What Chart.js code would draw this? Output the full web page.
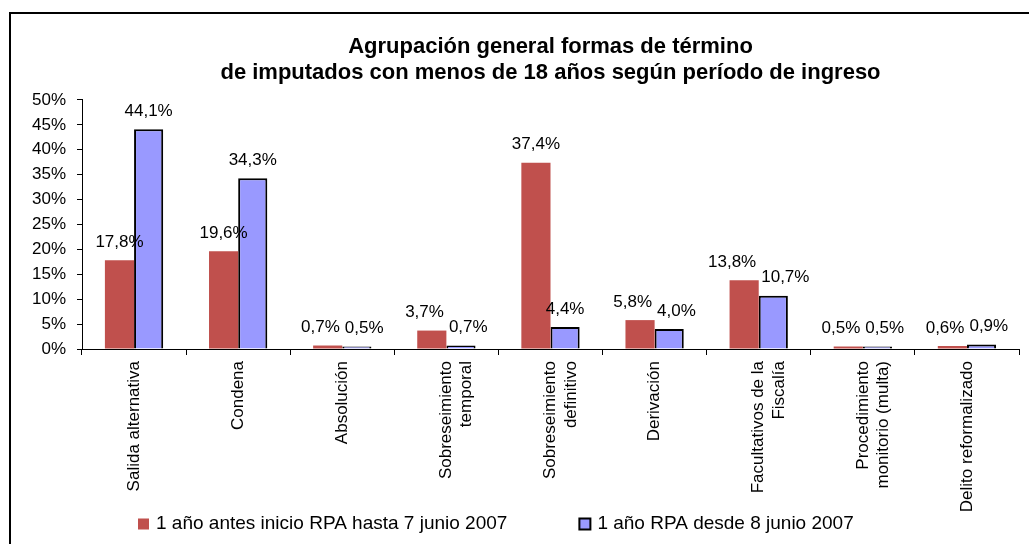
<!DOCTYPE html>
<html lang="es">
<head>
<meta charset="utf-8">
<title>Agrupación general formas de término</title>
<script src="https://cdn.jsdelivr.net/npm/chart.js@4/dist/chart.umd.min.js"></script>
<style>
    body {
        margin: 0;
        background: #ffffff;
        overflow: hidden;
    }
    #marco {
        position: absolute;
        left: 9px;
        top: 12px;
        width: 1100px;
        height: 600px;
        border-left: 2px solid #000;
        border-top: 2px solid #000;
    }
    #grafica {
        position: absolute;
        left: 0;
        top: 0;
    }
</style>
</head>
<body>
<div id="marco"></div>
<canvas id="grafica" width="1029" height="544"></canvas>

<script>
// ==============================
// DATOS
// ==============================
const categorias = [
    'Salida alternativa',
    'Condena',
    'Absolución',
    ['Sobreseimiento', 'temporal'],
    ['Sobreseimiento', 'definitivo'],
    'Derivación',
    ['Facultativos de la', 'Fiscalía'],
    ['Procedimiento', 'monitorio (multa)'],
    'Delito reformalizado'
];

const antesRPA = [17.8, 19.6, 0.7, 3.7, 37.4, 5.8, 13.8, 0.5, 0.6];
const desdeRPA = [44.1, 34.3, 0.5, 0.7, 4.4, 4.0, 10.7, 0.5, 0.9];

const nombresSeries = [
    '1 año antes inicio RPA hasta 7 junio 2007',
    '1 año RPA desde 8 junio 2007'
];

const titulo = [
    'Agrupación general formas de término',
    'de imputados con menos de 18 años según período de ingreso'
];

const fuente = 'Liberation Sans';


// ==============================
// PLUGIN: ETIQUETAS SOBRE LAS BARRAS
// ==============================
const etiquetasPlugin = {

    id: 'etiquetas',

    afterDatasetsDraw(chart) {

        const ctx = chart.ctx;
        ctx.save();
        ctx.font = '17px "' + fuente + '"';
        ctx.fillStyle = '#000';
        ctx.textAlign = 'center';
        ctx.textBaseline = 'middle';

        const metaA = chart.getDatasetMeta(0);
        const metaB = chart.getDatasetMeta(1);

        for (let j = 0; j < categorias.length; j++) {

            const textos = [antesRPA[j], desdeRPA[j]].map(v => v.toFixed(1).replace('.', ',') + '%');
            const barras = [metaA.data[j], metaB.data[j]];

            let xs = barras.map(b => b.x);
            let ys = barras.map(b => b.y - 18);
            const anchos = textos.map(t => ctx.measureText(t).width);

            // separar etiquetas que se pisan
            if (Math.abs(ys[0] - ys[1]) < 17) {
                const choque = (xs[0] + anchos[0] / 2 + 5) - (xs[1] - anchos[1] / 2);
                if (choque > 0) {
                    xs[0] -= choque / 2;
                    xs[1] += choque / 2;
                }
            }

            textos.forEach((t, i) => ctx.fillText(t, xs[i], ys[i]));
        }

        ctx.restore();
    }
};


// ==============================
// PLUGIN: LEYENDA ABAJO
// ==============================
const leyendaPlugin = {

    id: 'leyenda',

    afterDraw(chart) {

        const ctx = chart.ctx;
        const caja = 11;
        const separacion = 72;

        ctx.save();
        ctx.font = '19px "' + fuente + '"';
        ctx.textBaseline = 'middle';
        ctx.textAlign = 'left';

        let x = chart.chartArea.left + 56;
        const y = 524;

        chart.data.datasets.forEach(ds => {

            ctx.fillStyle = ds.backgroundColor;
            ctx.fillRect(x, y - caja / 2, caja, caja);

            if (ds.borderWidth) {
                ctx.lineWidth = ds.borderWidth;
                ctx.strokeStyle = ds.borderColor;
                ctx.strokeRect(x, y - caja / 2, caja, caja);
            }

            ctx.fillStyle = '#000';
            ctx.fillText(ds.label, x + caja + 7, y);

            x += caja + 7 + ctx.measureText(ds.label).width + separacion;
        });

        ctx.restore();
    }
};


// ==============================
// GRAFICA
// ==============================
new Chart(document.getElementById('grafica'), {

    type: 'bar',

    data: {
        labels: categorias,
        datasets: [
            {
                label: nombresSeries[0],
                data: antesRPA,
                backgroundColor: '#C0504D',
                borderWidth: 0
            },
            {
                label: nombresSeries[1],
                data: desdeRPA,
                backgroundColor: '#9999FF',
                borderColor: '#000000',
                borderWidth: 2
            }
        ]
    },

    options: {

        responsive: false,
        animation: false,

        layout: {
            padding: { left: 10, right: 10, top: 0, bottom: 20 }
        },

        datasets: {
            bar: {
                categoryPercentage: 0.56,
                barPercentage: 1.0
            }
        },

        scales: {
            x: {
                grid: {
                    drawOnChartArea: false,
                    color: '#000',
                    tickLength: 6
                },
                border: { color: '#000' },
                ticks: {
                    color: '#000',
                    maxRotation: 90,
                    minRotation: 90,
                    padding: 6,
                    autoSkip: false,
                    font: { family: fuente, size: 17 }
                },
                afterFit(scale) {
                    scale.height = 175;
                }
            },
            y: {
                min: 0,
                max: 50,
                grid: {
                    drawOnChartArea: false,
                    color: '#000',
                    tickLength: 5
                },
                border: { color: '#000' },
                ticks: {
                    stepSize: 5,
                    color: '#000',
                    padding: 11,
                    font: { family: fuente, size: 17 },
                    callback: v => v + '%'
                },
                afterFit(scale) {
                    scale.width = 72;
                }
            }
        },

        plugins: {
            title: {
                display: true,
                text: titulo,
                color: '#000',
                fullSize: false,
                font: { family: fuente, size: 22, weight: 'bold', lineHeight: 1.18 },
                padding: { top: 34, bottom: 14 }
            },
            legend: { display: false },
            tooltip: { enabled: false }
        }
    },

    plugins: [etiquetasPlugin, leyendaPlugin]
});
</script>
</body>
</html>
